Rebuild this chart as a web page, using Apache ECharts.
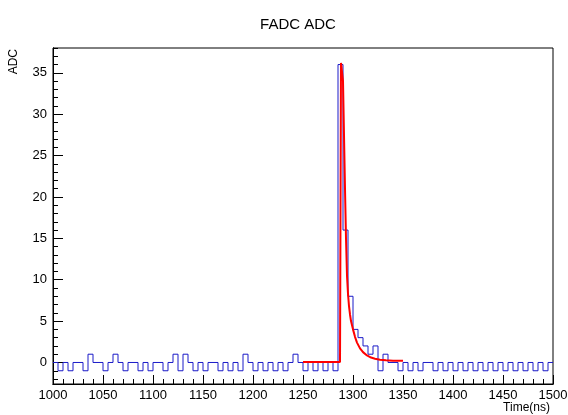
<!DOCTYPE html>
<html>
<head>
<meta charset="utf-8">
<title>FADC ADC</title>
<script src="https://cdn.jsdelivr.net/npm/echarts@6/dist/echarts.min.js"></script>
<style>
  html, body { margin: 0; padding: 0; background: #fff; }
  #chart { width: 568px; height: 415px; }
</style>
</head>
<body>
<div id="chart"></div>
<script>
// histogram bin left edges (5 ns bins) and ADC counts
const binEdges = [
  1000, 1005, 1010, 1015, 1020, 1025, 1030, 1035, 1040, 1045,
  1050, 1055, 1060, 1065, 1070, 1075, 1080, 1085, 1090, 1095,
  1100, 1105, 1110, 1115, 1120, 1125, 1130, 1135, 1140, 1145,
  1150, 1155, 1160, 1165, 1170, 1175, 1180, 1185, 1190, 1195,
  1200, 1205, 1210, 1215, 1220, 1225, 1230, 1235, 1240, 1245,
  1250, 1255, 1260, 1265, 1270, 1275, 1280, 1285, 1290, 1295,
  1300, 1305, 1310, 1315, 1320, 1325, 1330, 1335, 1340, 1345,
  1350, 1355, 1360, 1365, 1370, 1375, 1380, 1385, 1390, 1395,
  1400, 1405, 1410, 1415, 1420, 1425, 1430, 1435, 1440, 1445,
  1450, 1455, 1460, 1465, 1470, 1475, 1480, 1485, 1490, 1495
];
const adcCounts = [
  0, -1, 0, -1, 0, 0, -1, 1, 0, 0,
  -1, 0, 1, 0, -1, 0, 0, -1, 0, -1,
  0, 0, -1, 0, 1, -1, 1, 0, -1, 0,
  -1, 0, 0, -1, 0, -1, 0, -1, 1, 0,
  -1, 0, -1, 0, -1, 0, -1, 0, 1, 0,
  -1, 0, -1, 0, -1, 0, -1, 36, 16, 8,
  4, 3, 2, 1, 2, -1, 1, 0, 0, -1,
  0, -1, 0, -1, 0, 0, -1, 0, -1, 0,
  -1, 0, -1, 0, -1, 0, -1, 0, -1, 0,
  -1, 0, -1, 0, -1, 0, -1, 0, -1, 0
];
const histEnd = 1500;

// fitted pulse
const fitTimes = [
  1250, 1287, 1288, 1289, 1290, 1291, 1292, 1293, 1294, 1295,
  1296, 1297, 1298, 1300, 1302, 1304, 1307, 1310, 1314, 1318,
  1322, 1327, 1333, 1340, 1350
];
const fitValues = [
  0.05, 0.05, 36.2, 36, 34, 27.5, 21, 15, 10.5, 8.3,
  6.8, 5.8, 5.0, 4.0, 3.1, 2.4, 1.7, 1.25, 0.85, 0.6,
  0.45, 0.33, 0.26, 0.22, 0.2
];

const xLabels = [1000, 1050, 1100, 1150, 1200, 1250, 1300, 1350, 1400, 1450, 1500];
const xMinorTicks = [
  1010, 1020, 1030, 1040, 1060, 1070, 1080, 1090, 1110, 1120, 1130, 1140,
  1160, 1170, 1180, 1190, 1210, 1220, 1230, 1240, 1260, 1270, 1280, 1290,
  1310, 1320, 1330, 1340, 1360, 1370, 1380, 1390, 1410, 1420, 1430, 1440,
  1460, 1470, 1480, 1490
];
const yLabels = [0, 5, 10, 15, 20, 25, 30, 35];
const yMinorTicks = [
  -2, -1, 1, 2, 3, 4, 6, 7, 8, 9, 11, 12, 13, 14, 16, 17, 18, 19,
  21, 22, 23, 24, 26, 27, 28, 29, 31, 32, 33, 34, 36, 37, 38
];

const histData = binEdges.map((x, i) => [x, adcCounts[i]]);
histData.push([histEnd, adcCounts[adcCounts.length - 1]]);
const fitData = fitTimes.map((t, i) => [t, fitValues[i]]);

const font = "'Liberation Sans', Arial, Helvetica, sans-serif";
const yMin = -2.6;
const yMax = 38;
const plotRect = { left: 53, right: 15, top: 48, bottom: 31 };

const chart = echarts.init(document.getElementById("chart"), null, { renderer: "canvas" });
chart.setOption({
  animation: false,
  backgroundColor: "#fff",
  title: {
    text: "FADC ADC",
    left: 293,
    top: 12,
    textAlign: "center",
    textStyle: { fontFamily: font, fontSize: 15, fontWeight: "normal", color: "#000" }
  },
  graphic: [
    {
      type: "text",
      right: 18,
      top: 402,
      style: { text: "Time(ns)", fontFamily: font, fontSize: 12, fill: "#000" }
    },
    {
      type: "text",
      x: 8,
      y: 49,
      rotation: Math.PI / 2,
      style: { text: "ADC", fontFamily: font, fontSize: 12, fill: "#000", align: "right", verticalAlign: "top" }
    }
  ],
  grid: [
    Object.assign({
      containLabel: false,
      outerBoundsMode: "none",
      show: true, borderColor: "#000", borderWidth: 1, backgroundColor: "transparent"
    }, plotRect),
    Object.assign({ containLabel: false, outerBoundsMode: "none", show: false }, plotRect)
  ],
  xAxis: [
    {
      type: "value",
      gridIndex: 0,
      min: 1000,
      max: 1500,
      position: "bottom",
      axisLine: { show: true, onZero: false, lineStyle: { color: "#000", width: 1 } },
      axisTick: { show: true, inside: true, length: 9, customValues: xLabels, lineStyle: { color: "#000" } },
      axisLabel: {
        fontFamily: font, fontSize: 13, color: "#000", margin: 5,
        customValues: xLabels, hideOverlap: false,
        formatter: (v) => String(v)
      },
      splitLine: { show: false }
    },
    {
      type: "value",
      gridIndex: 1,
      min: 1000,
      max: 1500,
      position: "bottom",
      axisLine: { show: true, onZero: false, lineStyle: { color: "#000", width: 1 } },
      axisTick: { show: true, inside: true, length: 5, customValues: xMinorTicks, lineStyle: { color: "#000" } },
      axisLabel: { show: false },
      splitLine: { show: false }
    }
  ],
  yAxis: [
    {
      type: "value",
      gridIndex: 0,
      min: yMin,
      max: yMax,
      position: "left",
      axisLine: { show: true, onZero: false, lineStyle: { color: "#000", width: 1 } },
      axisTick: { show: true, inside: true, length: 10, customValues: yLabels, lineStyle: { color: "#000" } },
      axisLabel: { fontFamily: font, fontSize: 13, color: "#000", margin: 6, customValues: yLabels },
      splitLine: { show: false }
    },
    {
      type: "value",
      gridIndex: 1,
      min: yMin,
      max: yMax,
      position: "left",
      axisLine: { show: true, onZero: false, lineStyle: { color: "#000", width: 1 } },
      axisTick: { show: true, inside: true, length: 5, customValues: yMinorTicks, lineStyle: { color: "#000" } },
      axisLabel: { show: false },
      splitLine: { show: false }
    }
  ],
  series: [
    {
      name: "ADC",
      type: "line",
      step: "end",
      data: histData,
      showSymbol: false,
      clip: true,
      lineStyle: { color: "#1a1ac8", width: 1 },
      z: 2
    },
    {
      name: "fit",
      type: "line",
      data: fitData,
      showSymbol: false,
      clip: true,
      lineStyle: { color: "#ff0000", width: 2 },
      z: 3
    }
  ]
});
</script>
</body>
</html>
